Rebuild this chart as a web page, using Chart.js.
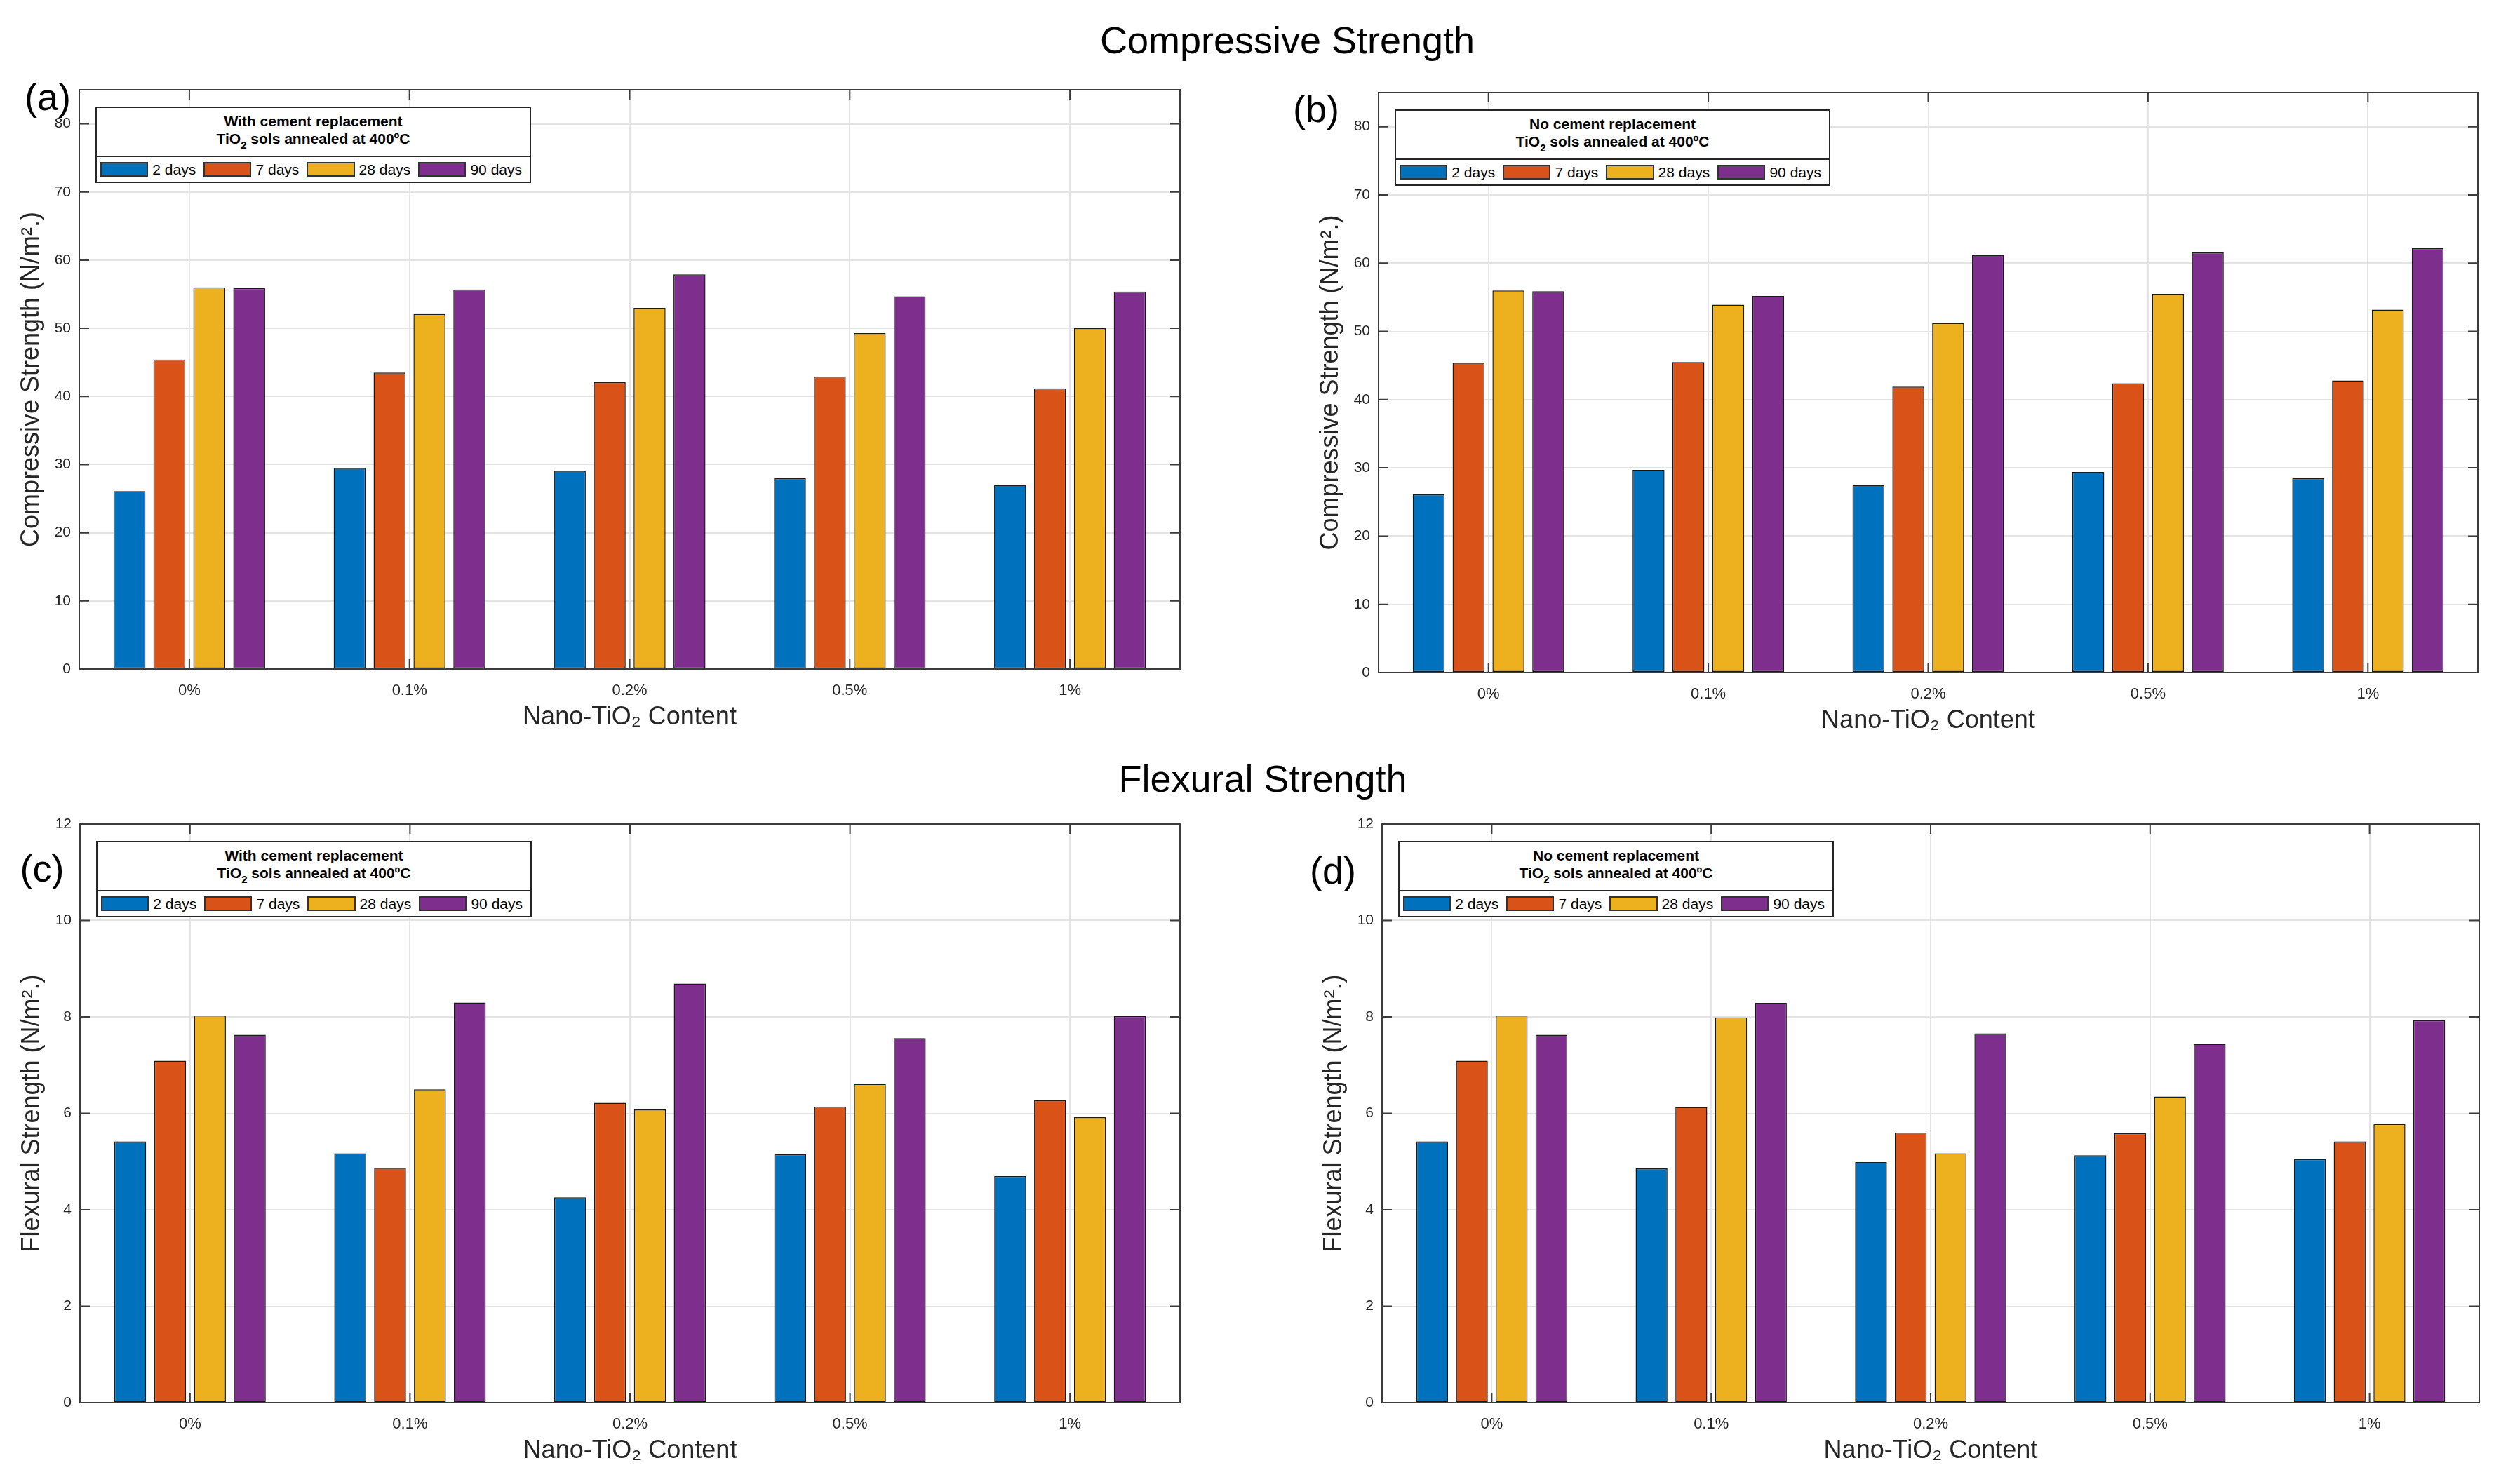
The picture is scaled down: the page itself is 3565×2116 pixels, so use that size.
<!DOCTYPE html>
<html>
<head>
<meta charset="utf-8">
<script src="https://cdn.jsdelivr.net/npm/chart.js@4.4.1/dist/chart.umd.min.js"></script>
<style>
  html, body { margin: 0; padding: 0; background: #fff; }
  #page { position: relative; width: 3565px; height: 2116px; background: #fff; overflow: hidden;
          font-family: "Liberation Sans", Arial, sans-serif; color: #000; }
  .title { position: absolute; font-size: 54px; white-space: nowrap; transform: translate(-50%, -50%); }
  .tag { position: absolute; font-size: 54px; white-space: nowrap; transform: translate(-50%, -50%); }
  .panel { position: absolute; }
  .legend { position: absolute; width: 621px; height: 109px; box-sizing: border-box; background: #fff;
            border: 2px solid #262626; }
  .lg-head { height: 70px; box-sizing: border-box; border-bottom: 2px solid #262626; text-align: center;
             font-weight: bold; font-size: 21px; line-height: 25px; padding-top: 6px; }
  .lg-head sub { font-size: 15px; line-height: 0; vertical-align: -7px; }
  .lg-row { display: flex; align-items: center; height: 35px; padding-left: 5px; font-size: 21px; }
  .lg-sw { display: inline-block; width: 70px; height: 21px; box-sizing: border-box; border: 2px solid #333; }
  .lg-txt { margin-left: 6px; margin-right: 11px; white-space: nowrap; }
</style>
</head>
<body>
<div id="page">
  <div class="title" style="left:1835px; top:57px;">Compressive Strength</div>
  <div class="title" style="left:1800px; top:1110px;">Flexural Strength</div>
  <div class="tag" style="left:68px; top:138px;">(a)</div>
  <div class="tag" style="left:1876px; top:155px;">(b)</div>
  <div class="tag" style="left:60px; top:1238px;">(c)</div>
  <div class="tag" style="left:1900px; top:1241px;">(d)</div>
</div>
<script>
// categorias y series
const categories = ['0%', '0.1%', '0.2%', '0.5%', '1%'];
const seriesLabels = ['2 days', '7 days', '28 days', '90 days'];
const seriesColors = ['#0072BD', '#D95319', '#EDB120', '#7E2F8E'];

// (a) compresion, con reemplazo de cemento
const compWith = [
  [26.1, 29.5, 29.1, 28.0, 27.0],
  [45.4, 43.5, 42.1, 42.9, 41.2],
  [56.0, 52.1, 53.0, 49.3, 50.0],
  [55.9, 55.7, 57.9, 54.7, 55.4]
];
// (b) compresion, sin reemplazo
const compNo = [
  [26.1, 29.7, 27.5, 29.4, 28.5],
  [45.4, 45.5, 41.9, 42.4, 42.8],
  [56.0, 53.9, 51.2, 55.5, 53.2],
  [55.9, 55.2, 61.2, 61.6, 62.2]
];
// (c) flexion, con reemplazo
const flexWith = [
  [5.42, 5.17, 4.26, 5.15, 4.70],
  [7.09, 4.87, 6.22, 6.14, 6.27],
  [8.03, 6.50, 6.08, 6.61, 5.92],
  [7.63, 8.30, 8.69, 7.56, 8.02]
];
// (d) flexion, sin reemplazo
const flexNo = [
  [5.42, 4.86, 4.99, 5.13, 5.05],
  [7.09, 6.13, 5.60, 5.59, 5.42],
  [8.03, 7.99, 5.17, 6.35, 5.78],
  [7.63, 8.29, 7.66, 7.44, 7.93]
];

const compTicks = [0, 10, 20, 30, 40, 50, 60, 70, 80];
const flexTicks = [0, 2, 4, 6, 8, 10, 12];

const FONT = '"Liberation Sans", Arial, sans-serif';
const AXIS_W = 113, PAD_TOP = 28, PAD_RIGHT = 38, XAXIS_H = 116;

// caja tipo MATLAB con marcas hacia dentro
const boxPlugin = {
  id: 'matlabBox',
  afterDatasetsDraw(chart) {
    const { ctx, chartArea: { left, top, right, bottom }, scales: { x, y } } = chart;
    ctx.save();
    ctx.strokeStyle = '#3c3c3c';
    ctx.lineWidth = 2;
    ctx.beginPath();
    y.ticks.forEach(t => {
      const py = y.getPixelForValue(t.value);
      ctx.moveTo(left, py); ctx.lineTo(left + 14, py);
      ctx.moveTo(right, py); ctx.lineTo(right - 14, py);
    });
    x.ticks.forEach((t, i) => {
      const px = x.getPixelForTick(i);
      ctx.moveTo(px, bottom); ctx.lineTo(px, bottom - 14);
      ctx.moveTo(px, top); ctx.lineTo(px, top + 14);
    });
    ctx.stroke();
    ctx.strokeRect(left, top, right - left, bottom - top);
    ctx.restore();
  }
};

function buildLegend(chart, wrap, heading) {
  const box = document.createElement('div');
  box.className = 'legend';
  box.style.left = (chart.chartArea.left + 23) + 'px';
  box.style.top = (chart.chartArea.top + 24) + 'px';
  const head = document.createElement('div');
  head.className = 'lg-head';
  head.innerHTML = '<div>' + heading + '</div><div>TiO<sub>2</sub> sols annealed at 400ºC</div>';
  box.appendChild(head);
  const row = document.createElement('div');
  row.className = 'lg-row';
  chart.data.datasets.forEach(ds => {
    const sw = document.createElement('span');
    sw.className = 'lg-sw';
    sw.style.background = ds.backgroundColor;
    const txt = document.createElement('span');
    txt.className = 'lg-txt';
    txt.textContent = ds.label;
    row.appendChild(sw);
    row.appendChild(txt);
  });
  box.appendChild(row);
  wrap.appendChild(box);
}

function makePanel(p) {
  const page = document.getElementById('page');
  const wrap = document.createElement('div');
  wrap.className = 'panel';
  const w = (p.box.r - p.box.l) + AXIS_W + PAD_RIGHT;
  const h = (p.box.b - p.box.t) + PAD_TOP + XAXIS_H;
  wrap.style.left = (p.box.l - AXIS_W) + 'px';
  wrap.style.top = (p.box.t - PAD_TOP) + 'px';
  wrap.style.width = w + 'px';
  wrap.style.height = h + 'px';
  const canvas = document.createElement('canvas');
  canvas.width = w;
  canvas.height = h;
  wrap.appendChild(canvas);
  page.appendChild(wrap);

  const chart = new Chart(canvas.getContext('2d'), {
    type: 'bar',
    data: {
      labels: categories,
      datasets: p.values.map((row, i) => ({
        label: seriesLabels[i],
        data: row,
        backgroundColor: seriesColors[i],
        borderColor: '#1a1a1a',
        borderWidth: 1.5,
        borderSkipped: false
      }))
    },
    options: {
      responsive: false,
      animation: false,
      devicePixelRatio: 1,
      layout: { padding: { left: 0, top: PAD_TOP, right: PAD_RIGHT, bottom: 0 } },
      datasets: { bar: { categoryPercentage: 0.725, barPercentage: 0.8 } },
      plugins: { legend: { display: false }, tooltip: { enabled: false } },
      scales: {
        x: {
          type: 'category',
          offset: true,
          grid: { offset: false, color: '#e4e4e4', lineWidth: 2, drawTicks: false },
          border: { display: false },
          ticks: { font: { size: 22, family: FONT }, color: '#262626', padding: 18, maxRotation: 0 },
          title: { display: true, text: 'Nano-TiO₂ Content', font: { size: 36, family: FONT }, color: '#262626',
                   padding: { top: 0, bottom: 25 } },
          afterFit: s => { s.height = XAXIS_H; }
        },
        y: {
          min: 0,
          max: p.yMax,
          grid: { color: '#e4e4e4', lineWidth: 2, drawTicks: false },
          border: { display: false },
          ticks: { font: { size: 21, family: FONT }, color: '#262626', padding: 12 },
          afterBuildTicks: s => { s.ticks = p.yTicks.map(v => ({ value: v })); },
          title: { display: true, text: p.yTitle, font: { size: 36, family: FONT }, color: '#262626',
                   padding: { top: 23, bottom: 0 } },
          afterFit: s => { s.width = AXIS_W; }
        }
      }
    },
    plugins: [boxPlugin]
  });
  buildLegend(chart, wrap, p.heading);
}

makePanel({ box: { l: 113, t: 128, r: 1682, b: 954 }, values: compWith, yMax: 85, yTicks: compTicks,
            yTitle: 'Compressive Strength (N/m².)', heading: 'With cement replacement' });
makePanel({ box: { l: 1965, t: 132, r: 3532, b: 959 }, values: compNo, yMax: 85, yTicks: compTicks,
            yTitle: 'Compressive Strength (N/m².)', heading: 'No cement replacement' });
makePanel({ box: { l: 114, t: 1175, r: 1682, b: 2000 }, values: flexWith, yMax: 12, yTicks: flexTicks,
            yTitle: 'Flexural Strength (N/m².)', heading: 'With cement replacement' });
makePanel({ box: { l: 1970, t: 1175, r: 3534, b: 2000 }, values: flexNo, yMax: 12, yTicks: flexTicks,
            yTitle: 'Flexural Strength (N/m².)', heading: 'No cement replacement' });
</script>
</body>
</html>
